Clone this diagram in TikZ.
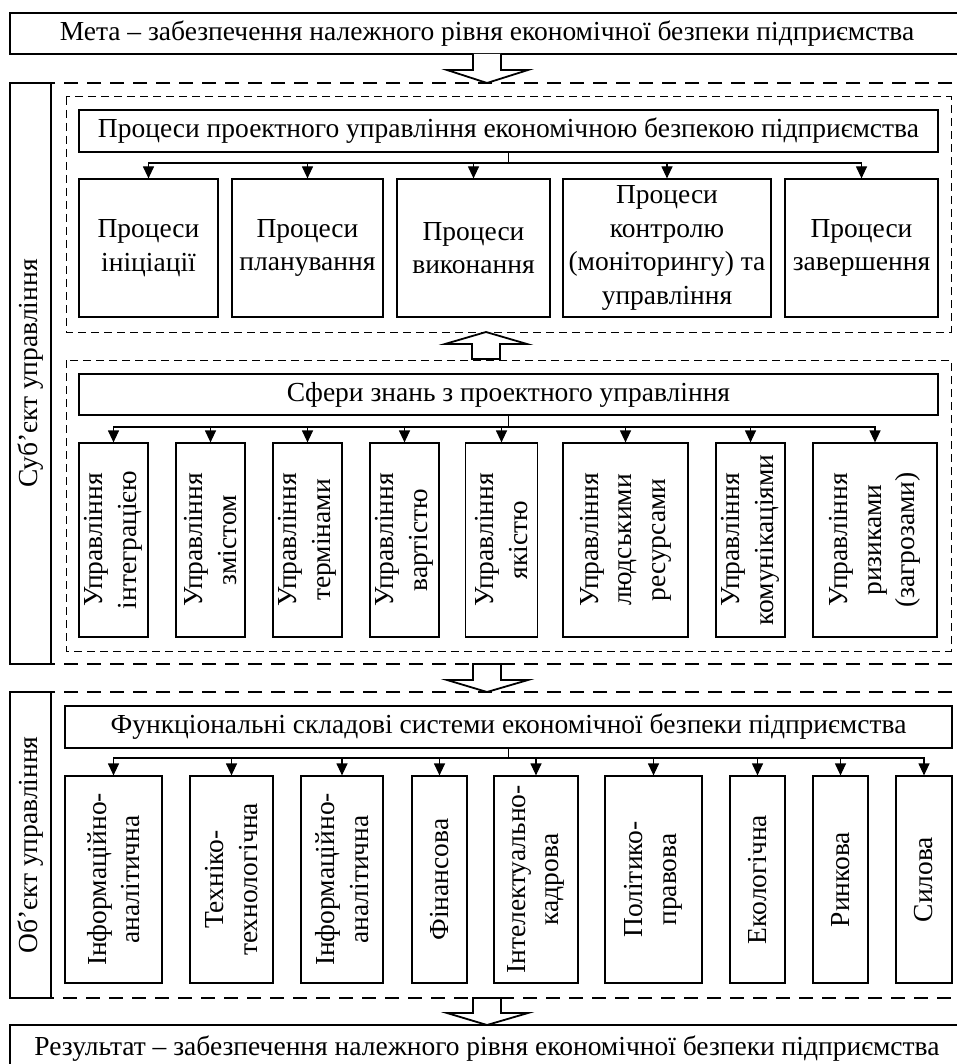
\documentclass[tikz,border=0pt]{standalone}
\usepackage{fontspec}
\setmainfont{Liberation Serif}
\usetikzlibrary{arrows.meta}
\begin{document}
\begin{tikzpicture}[x=1pt,y=-1pt,
  base/.style={draw, inner sep=0pt, align=center, font=\fontsize{27.5}{33.5}\selectfont},
  thinbox/.style={base, line width=1.2pt},
  thickbox/.style={base, line width=1.8pt},
  vbox/.style={thinbox, rotate=90},
  vthick/.style={thickbox, rotate=90},
  odash/.style={line width=1.8pt, dash pattern=on 14pt off 9pt},
  idash/.style={line width=1pt, dash pattern=on 8pt off 5pt},
  conn/.style={line width=1.2pt, -{Triangle[width=11pt,length=12pt]}},
  stem/.style={line width=1.2pt},
  bigarrow/.style={line width=1.8pt, fill=white, line join=miter}
]
\useasboundingbox (0,0) rectangle (956,1064);

% dashed regions
\draw[odash] (975,83) -- (51,83) -- (51,664) -- (975,664);
\draw[odash] (975,692) -- (51,692) -- (51,998) -- (975,998);
\draw[idash] (66,97) rectangle (951,332);
\draw[idash] (66,360) rectangle (951,651);

% goal and result
\node[thickbox, minimum width=954, minimum height=41] (goal) at (487,33.5)
  {Мета – забезпечення належного рівня економічної безпеки підприємства};
\node[thickbox, minimum width=954, minimum height=48] (res) at (487,1049)
  {Результат – забезпечення належного рівня економічної безпеки підприємства};

% side labels
\node[vthick, minimum width=581, minimum height=41] (subj) at (30.5,373.5) {Суб’єкт управління};
\node[vthick, minimum width=306, minimum height=41] (obj) at (30.5,845) {Об’єкт управління};

% processes
\node[thinbox, minimum width=859, minimum height=42] (h1) at (508.5,131)
  {Процеси проектного управління економічною безпекою підприємства};
\node[thinbox, minimum width=139, minimum height=138] (p1) at (148.5,248) {Процеси\\ініціації};
\node[thinbox, minimum width=151, minimum height=138] (p2) at (307.5,248) {Процеси\\планування};
\node[thinbox, minimum width=153, minimum height=138] (p3) at (473.5,248) {Процеси\\виконання};
\node[thinbox, minimum width=208, minimum height=138] (p4) at (667,248) {Процеси\\контролю\\(моніторингу) та\\управління};
\node[thinbox, minimum width=153, minimum height=138] (p5) at (861.5,248) {Процеси\\завершення};
\coordinate (j1) at (508.5,163);
\draw[stem] (h1.south) -- (j1);
\foreach \n in {p1,p2,p3,p4,p5} \draw[conn] (j1) -| (\n.north);

% knowledge areas
\node[thinbox, minimum width=859, minimum height=41] (h2) at (508.5,394.5)
  {Сфери знань з проектного управління};
\node[vbox, minimum width=194, minimum height=69] (k1) at (113.5,540) {Управління\\інтеграцією};
\node[vbox, minimum width=194, minimum height=69] (k2) at (210.5,540) {Управління\\змістом};
\node[vbox, minimum width=194, minimum height=69] (k3) at (307.5,540) {Управління\\термінами};
\node[vbox, minimum width=194, minimum height=69] (k4) at (404.5,540) {Управління\\вартістю};
\node[vbox, minimum width=194, minimum height=72] (k5) at (501.5,540) {Управління\\якістю};
\node[vbox, minimum width=194, minimum height=125] (k6) at (625.5,540) {Управління\\людськими\\ресурсами};
\node[vbox, minimum width=194, minimum height=69] (k7) at (750.5,540) {Управління\\комунікаціями};
\node[vbox, minimum width=194, minimum height=124] (k8) at (875,540) {Управління\\ризиками\\(загрозами)};
\coordinate (j2) at (508.5,427);
\draw[stem] (h2.south) -- (j2);
\foreach \n in {k1,k2,k3,k4,k5,k6,k7,k8} \draw[conn] (j2) -| (\n.east);

% functional components
\node[thickbox, minimum width=887, minimum height=42] (h3) at (508.5,727)
  {Функціональні складові системи економічної безпеки підприємства};
\node[vbox, minimum width=207, minimum height=97] (f1) at (113.5,879.5) {Інформаційно-\\аналітична};
\node[vbox, minimum width=207, minimum height=83] (f2) at (231.5,879.5) {Техніко-\\технологічна};
\node[vbox, minimum width=207, minimum height=82] (f3) at (342,879.5) {Інформаційно-\\аналітична};
\node[vbox, minimum width=207, minimum height=55] (f4) at (439.5,879.5) {Фінансова};
\node[vbox, minimum width=207, minimum height=84] (f5) at (536,879.5) {Інтелектуально-\\кадрова};
\node[vbox, minimum width=207, minimum height=97] (f6) at (653.5,879.5) {Політико-\\правова};
\node[vbox, minimum width=207, minimum height=55] (f7) at (757.5,879.5) {Екологічна};
\node[vbox, minimum width=207, minimum height=55] (f8) at (840.5,879.5) {Ринкова};
\node[vbox, minimum width=207, minimum height=56] (f9) at (924,879.5) {Силова};
\coordinate (j3) at (508.5,758);
\draw[stem] (h3.south) -- (j3);
\foreach \n in {f1,f2,f3,f4,f5,f6,f7,f8,f9} \draw[conn] (j3) -| (\n.east);

% big hollow arrows
\draw[bigarrow] (473,54) -- (473,70) -- (447,70) -- (487,83) -- (528,70) -- (501,70) -- (501,54);
\draw[bigarrow] (472,359) -- (472,344) -- (445,344) -- (486,332) -- (527,344) -- (500,344) -- (500,359) -- cycle;
\draw[bigarrow] (473,664) -- (473,680) -- (447,680) -- (487,692) -- (528,680) -- (501,680) -- (501,664) -- cycle;
\draw[bigarrow] (473,998) -- (473,1013) -- (447,1013) -- (487,1025) -- (528,1013) -- (501,1013) -- (501,998) -- cycle;
\end{tikzpicture}
\end{document}
